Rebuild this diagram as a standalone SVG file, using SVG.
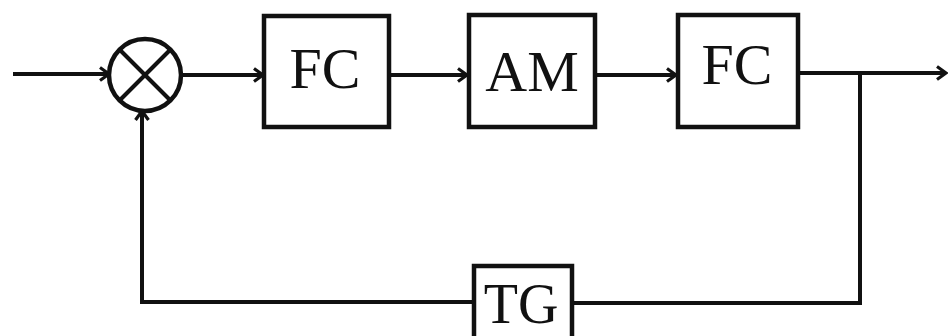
<svg xmlns="http://www.w3.org/2000/svg" width="948" height="336" viewBox="0 0 948 336">
<defs>
<style>
.box{fill:#fff;stroke:#111;stroke-width:4.5}
.ln{fill:none;stroke:#111;stroke-width:4;stroke-linejoin:miter}
.lbl{font-family:"Liberation Serif","Times New Roman",serif;font-size:58px;fill:#111;text-anchor:middle}
</style>
<marker id="arr" markerWidth="14" markerHeight="16" refX="12" refY="8" orient="auto" markerUnits="userSpaceOnUse">
<polyline points="3,1.5 12,8 3,14.5" fill="none" stroke="#111" stroke-width="3.2"/>
</marker>
</defs>
<g id="connectors">
<line class="ln" x1="13" y1="74" x2="109" y2="74" marker-end="url(#arr)"/>
<line class="ln" x1="182" y1="75" x2="263" y2="75" marker-end="url(#arr)"/>
<line class="ln" x1="390" y1="75" x2="467" y2="75" marker-end="url(#arr)"/>
<line class="ln" x1="596" y1="75" x2="676" y2="75" marker-end="url(#arr)"/>
<line class="ln" x1="798" y1="73" x2="946" y2="73" marker-end="url(#arr)"/>
<polyline class="ln" points="860,73 860,303 572,303"/>
<polyline class="ln" points="474,302 142,302 142,111" marker-end="url(#arr)"/>
</g>
<g id="sum">
<circle cx="145" cy="75" r="36" fill="#fff" stroke="#111" stroke-width="4.5"/>
<line class="ln" x1="119.5" y1="49.5" x2="170.5" y2="100.5"/>
<line class="ln" x1="170.5" y1="49.5" x2="119.5" y2="100.5"/>
</g>
<g id="fc1">
<rect class="box" x="264" y="16" width="125" height="111"/>
<text class="lbl" x="325" y="88">FC</text>
</g>
<g id="am">
<rect class="box" x="469" y="15" width="126" height="112"/>
<text class="lbl" x="532" y="91">AM</text>
</g>
<g id="fc2">
<rect class="box" x="678" y="15" width="120" height="112"/>
<text class="lbl" x="737" y="84">FC</text>
</g>
<g id="tg">
<rect class="box" x="474" y="266" width="98" height="80"/>
<text class="lbl" x="521" y="323" style="font-size:56px">TG</text>
</g>
</svg>
